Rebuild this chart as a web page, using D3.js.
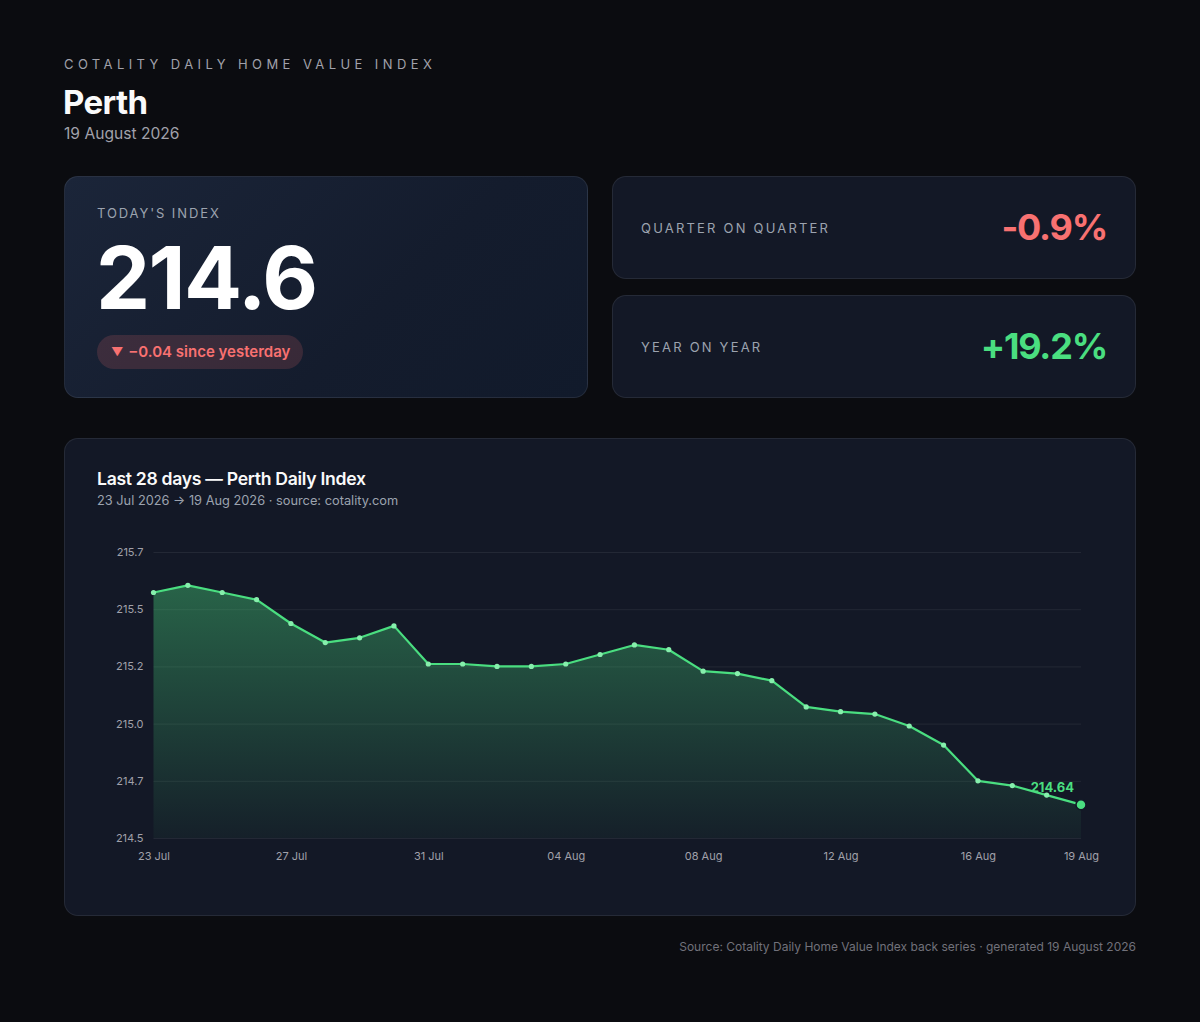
<!DOCTYPE html>
<html>
<head>
<meta charset="utf-8">
<script src="https://cdn.jsdelivr.net/npm/d3@7"></script>
<style>
  html, body { margin: 0; padding: 0; background: #0b0c10; }
  body { width: 1200px; height: 1022px; position: relative; font-family: Inter, "Noto Sans", sans-serif; color: #f4f4f5; overflow: hidden; }
  .abs { position: absolute; }
  .eyebrow { left: 64px; top: 56px; font-size: 13px; letter-spacing: 4.4px; color: #a1a1aa; }
  .city { left: 63px; top: 82px; font-size: 33px; font-weight: 700; letter-spacing: -0.6px; color: #fafafa; }
  .date { left: 64px; top: 124px; font-size: 15.6px; color: #a1a1aa; }
  .card { border-radius: 14px; border: 1px solid rgba(255,255,255,0.08); background: #131826; box-sizing: border-box; }
  .hero { left: 64px; top: 176px; width: 524px; height: 222px;
          background: linear-gradient(135deg, #1b2539 0%, #141c2d 60%, #111a2b 100%); }
  .label { font-size: 13px; color: #9ca3af; }
  .hero .label { position: absolute; left: 32px; top: 28px; letter-spacing: 1.9px; }
  .big { position: absolute; left: 31px; top: 49px; font-size: 86px; font-weight: 700; letter-spacing: -1.6px; color: #ffffff; }
  .pill { position: absolute; left: 32px; top: 158px; height: 34px; line-height: 34px; padding: 0 13px 0 14px;
          border-radius: 17px; background: rgba(248,113,113,0.16); color: #f87171; font-size: 15px; font-weight: 600; }
  .pill .tri { font-size: 12px; position: relative; top: -1px; margin-right: 1px; }
  .stat { left: 612px; width: 524px; height: 103px; }
  .stat .label { position: absolute; left: 28px; top: 50%; transform: translateY(-50%); letter-spacing: 2.2px; }
  .stat .val { position: absolute; right: 28px; top: 50%; transform: translateY(-52%); font-size: 36px; font-weight: 700; letter-spacing: -1.2px; }
  .chartcard { left: 64px; top: 438px; width: 1072px; height: 478px; }
  .ctitle { position: absolute; left: 32px; top: 29px; font-size: 17.6px; font-weight: 600; color: #fafafa; letter-spacing: -0.3px; }
  .csub { position: absolute; left: 32px; top: 54px; font-size: 12.8px; color: #9ca3af; }
  .footer { right: 64px; top: 939px; font-size: 12px; color: #71717a; }
  svg { position: absolute; left: 0; top: 0; }
</style>
</head>
<body>
<div class="abs eyebrow">COTALITY DAILY HOME VALUE INDEX</div>
<div class="abs city">Perth</div>
<div class="abs date">19 August 2026</div>

<div class="abs card hero">
  <div class="label">TODAY'S INDEX</div>
  <div class="big" id="big"></div>
  <div class="pill"><span class="tri">▼</span> <span id="pill"></span></div>
</div>
<div class="abs card stat" style="top:176px">
  <div class="label">QUARTER ON QUARTER</div>
  <div class="val" id="qoq" style="color:#f87171"></div>
</div>
<div class="abs card stat" style="top:295px">
  <div class="label">YEAR ON YEAR</div>
  <div class="val" id="yoy" style="color:#4ade80"></div>
</div>

<div class="abs card chartcard" id="chartcard">
  <div class="ctitle">Last 28 days — Perth Daily Index</div>
  <div class="csub">23 Jul 2026 → 19 Aug 2026 · source: cotality.com</div>
</div>

<div class="abs footer">Source: Cotality Daily Home Value Index back series · generated 19 August 2026</div>

<script>
// 每日日期
const days = [
  "2026-07-23","2026-07-24","2026-07-25","2026-07-26","2026-07-27","2026-07-28","2026-07-29",
  "2026-07-30","2026-07-31","2026-08-01","2026-08-02","2026-08-03","2026-08-04","2026-08-05",
  "2026-08-06","2026-08-07","2026-08-08","2026-08-09","2026-08-10","2026-08-11","2026-08-12",
  "2026-08-13","2026-08-14","2026-08-15","2026-08-16","2026-08-17","2026-08-18","2026-08-19"
];
// 指数值
const indexValues = [
  215.53, 215.56, 215.53, 215.50, 215.40, 215.32, 215.34,
  215.39, 215.23, 215.23, 215.22, 215.22, 215.23, 215.27,
  215.31, 215.29, 215.20, 215.19, 215.16, 215.05, 215.03,
  215.02, 214.97, 214.89, 214.74, 214.72, 214.68, 214.64
];
const xTickDays = ["2026-07-23","2026-07-27","2026-07-31","2026-08-04","2026-08-08","2026-08-12","2026-08-16","2026-08-19"];
const yDomain = [214.5, 215.7];
const yTickCount = 6;
const todayIndex = 214.6;
const dayChange = -0.04;
const quarterChange = -0.9;
const yearChange = 19.2;

d3.select("#big").text(todayIndex.toFixed(1));
d3.select("#pill").text("\u2212" + Math.abs(dayChange).toFixed(2) + " since yesterday");
d3.select("#qoq").text(quarterChange.toFixed(1) + "%");
d3.select("#yoy").text("+" + yearChange.toFixed(1) + "%");

// 图表
function drawChart() {
  const parse = d3.timeParse("%Y-%m-%d");
  const data = days.map((d, i) => ({date: parse(d), value: indexValues[i]}));

  const W = 1072, H = 478;
  const margin = {top: 113, right: 56, bottom: 79, left: 88.5};
  const width = W - margin.left - margin.right;
  const height = H - margin.top - margin.bottom;

  const svg = d3.select("#chartcard").append("svg")
      .attr("width", W).attr("height", H);

  const defs = svg.append("defs");
  const grad = defs.append("linearGradient")
      .attr("id", "areaFill").attr("x1", 0).attr("y1", 0).attr("x2", 0).attr("y2", 1);
  grad.append("stop").attr("offset", "0%").attr("stop-color", "#4ade80").attr("stop-opacity", 0.38);
  grad.append("stop").attr("offset", "100%").attr("stop-color", "#4ade80").attr("stop-opacity", 0.04);

  const chart = svg.append("g")
      .attr("transform", `translate(${margin.left},${margin.top})`);

  const xScale = d3.scaleTime()
      .domain(d3.extent(data, d => d.date))
      .range([0, width]);

  const yScale = d3.scaleLinear()
      .domain(yDomain)
      .range([height, 0]);

  const step = (yDomain[1] - yDomain[0]) / (yTickCount - 1);
  const yTicks = d3.range(yTickCount).map(i => yDomain[0] + i * step);

  // 网格线
  chart.append("g")
      .call(d3.axisLeft(yScale).tickValues(yTicks).tickSize(-width).tickFormat(""))
      .call(g => g.select(".domain").remove())
      .call(g => g.selectAll("line").attr("stroke", "rgba(255,255,255,0.07)"));

  const area = d3.area()
      .x(d => xScale(d.date))
      .y0(height)
      .y1(d => yScale(d.value));

  const line = d3.line()
      .x(d => xScale(d.date))
      .y(d => yScale(d.value));

  chart.append("path")
      .datum(data)
      .attr("fill", "url(#areaFill)")
      .attr("d", area);

  chart.append("path")
      .datum(data)
      .attr("fill", "none")
      .attr("stroke", "#4ade80")
      .attr("stroke-width", 2.2)
      .attr("stroke-linejoin", "round")
      .attr("d", line);

  chart.selectAll("circle.pt")
      .data(data.slice(0, -1))
      .join("circle")
      .attr("class", "pt")
      .attr("cx", d => xScale(d.date))
      .attr("cy", d => yScale(d.value))
      .attr("r", 2.6)
      .attr("fill", "#86efac");

  const last = data[data.length - 1];
  chart.append("circle")
      .attr("cx", xScale(last.date))
      .attr("cy", yScale(last.value))
      .attr("r", 5)
      .attr("fill", "#4ade80")
      .attr("stroke", "#131826")
      .attr("stroke-width", 1.5);

  chart.append("text")
      .attr("x", xScale(last.date) - 7)
      .attr("y", yScale(last.value) - 13)
      .attr("text-anchor", "end")
      .attr("fill", "#4ade80")
      .style("font-size", "13px")
      .style("font-weight", "700")
      .text(last.value.toFixed(2));

  // 坐标轴
  chart.append("g")
      .call(d3.axisLeft(yScale).tickValues(yTicks).tickSize(0).tickPadding(10).tickFormat(d3.format(".1f")))
      .call(g => g.select(".domain").remove())
      .call(g => g.selectAll("text").attr("fill", "#a1a1aa").style("font-size", "11px").style("font-family", "Inter, sans-serif"));

  chart.append("g")
      .attr("transform", `translate(0,${height})`)
      .call(d3.axisBottom(xScale).tickValues(xTickDays.map(parse)).tickSize(0).tickPadding(14).tickFormat(d3.timeFormat("%d %b")))
      .call(g => g.select(".domain").remove())
      .call(g => g.selectAll("text").attr("fill", "#a1a1aa").style("font-size", "11px").style("font-family", "Inter, sans-serif"));
}

drawChart();
</script>
</body>
</html>
